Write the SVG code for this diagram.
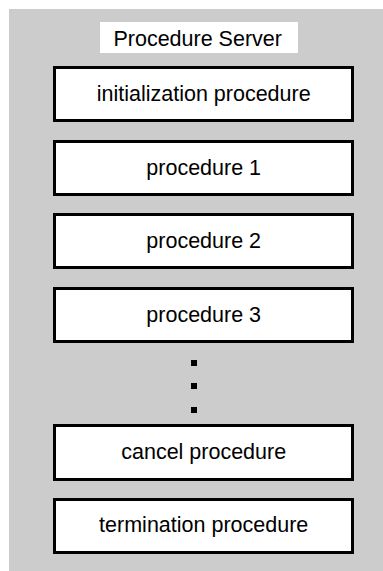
<svg xmlns="http://www.w3.org/2000/svg" width="383" height="571" viewBox="0 0 383 571">
<style>
.box{fill:#fff;stroke:#000;stroke-width:3}
.t{font-family:"Liberation Sans",Arial,sans-serif;font-size:21.5px;fill:#000;text-anchor:middle}
.dot{fill:#000}
</style>
<rect x="0" y="0" width="383" height="571" fill="#fff"/>
<rect id="server" x="9" y="9" width="374" height="562" fill="#cccccc"/>
<g id="title">
<rect x="100" y="22" width="198" height="31" fill="#fff"/>
<text class="t" x="197.7" y="46">Procedure Server</text>
</g>
<g id="init">
<rect class="box" x="54.5" y="67.5" width="298" height="53"/>
<text class="t" x="203.7" y="100.7">initialization procedure</text>
</g>
<g id="p1">
<rect class="box" x="54.5" y="141.5" width="298" height="53"/>
<text class="t" x="203.7" y="174.7">procedure 1</text>
</g>
<g id="p2">
<rect class="box" x="54.5" y="214.5" width="298" height="53"/>
<text class="t" x="203.7" y="247.7">procedure 2</text>
</g>
<g id="p3">
<rect class="box" x="54.5" y="288.5" width="298" height="53"/>
<text class="t" x="203.7" y="321.7">procedure 3</text>
</g>
<g id="ellipsis">
<rect class="dot" x="191" y="360" width="6" height="6"/>
<rect class="dot" x="191" y="383" width="6" height="6"/>
<rect class="dot" x="191" y="407" width="6" height="6"/>
</g>
<g id="cancel">
<rect class="box" x="54.5" y="425.5" width="298" height="54"/>
<text class="t" x="203.7" y="459">cancel procedure</text>
</g>
<g id="term">
<rect class="box" x="54.5" y="499.5" width="298" height="53"/>
<text class="t" x="203.7" y="531.7">termination procedure</text>
</g>
<g id="connectors"></g>
</svg>
